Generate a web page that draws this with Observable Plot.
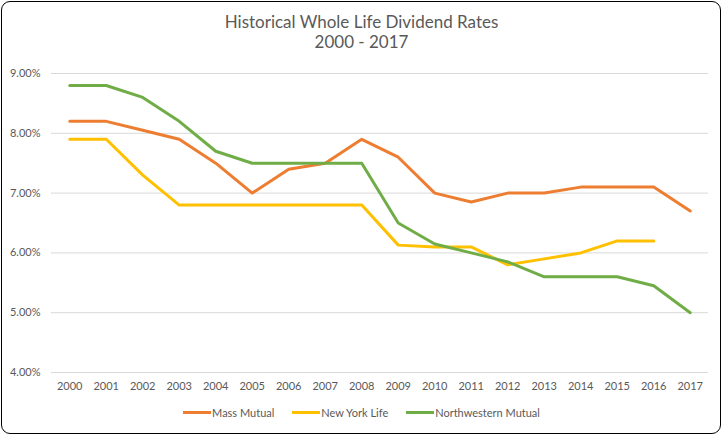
<!DOCTYPE html>
<html>
<head>
<meta charset="utf-8">
<script src="https://cdn.jsdelivr.net/npm/d3@7"></script>
<script src="https://cdn.jsdelivr.net/npm/@observablehq/plot@0.6"></script>
<style>
  html, body { margin: 0; padding: 0; background: #fff; }
  #wrap { position: relative; width: 723px; height: 436px; overflow: hidden; font-family: Lato, sans-serif; color: #595959; }
  #frame { position: absolute; left: 1px; top: 1px; width: 720px; height: 433px; box-sizing: border-box; border: 1.3px solid #000; border-radius: 9px; pointer-events: none; }
  #title { position: absolute; left: 0; top: 12px; width: 723px; text-align: center; font-size: 17px; line-height: 20px; font-weight: 400; }
  #chart { position: absolute; left: 0; top: 60px; }
  #legend { position: absolute; left: 0; top: 403px; width: 723px; text-align: center; font-size: 11px; }
  .item { display: inline-flex; align-items: center; margin: 0 9px; }
  .sw { display: inline-block; width: 28px; height: 3px; margin-right: 1px; }
</style>
</head>
<body>
<div id="wrap">
  <div id="title">Historical Whole Life Dividend Rates<br>2000 - 2017</div>
  <div id="chart"></div>
  <div id="legend"></div>
  <div id="frame"></div>
</div>
<script>
const years = [2000,2001,2002,2003,2004,2005,2006,2007,2008,2009,2010,2011,2012,2013,2014,2015,2016,2017];
const massMutual   = [8.2, 8.2, 8.05, 7.9, 7.5, 7.0, 7.4, 7.5, 7.9, 7.6, 7.0, 6.85, 7.0, 7.0, 7.1, 7.1, 7.1, 6.7];
const newYorkLife  = [7.9, 7.9, 7.3, 6.8, 6.8, 6.8, 6.8, 6.8, 6.8, 6.13, 6.1, 6.1, 5.8, 5.9, 6.0, 6.2, 6.2, null];
const northwestern = [8.8, 8.8, 8.6, 8.2, 7.7, 7.5, 7.5, 7.5, 7.5, 6.5, 6.15, 6.0, 5.85, 5.6, 5.6, 5.6, 5.45, 5.0];
const seriesNames  = ["Mass Mutual", "New York Life", "Northwestern Mutual"];
const seriesColors = ["#ED7D31", "#FFC000", "#70AD47"];
const yTicks = [4, 5, 6, 7, 8, 9];

const allSeries = [massMutual, newYorkLife, northwestern];
const rows = [];
allSeries.forEach((vals, si) => {
  vals.forEach((v, i) => {
    if (v != null) rows.push({year: String(years[i]), value: v, series: seriesNames[si]});
  });
});

const chart = Plot.plot({
  width: 723,
  height: 340,
  marginLeft: 51,
  marginRight: 15,
  marginTop: 13,
  marginBottom: 28,
  style: {fontFamily: "Lato, sans-serif", fontSize: "11px", color: "#595959", background: "transparent"},
  x: {type: "point", domain: years.map(String), padding: 0.5, round: false, label: null},
  y: {domain: [4, 9], label: null},
  color: {domain: seriesNames, range: seriesColors},
  marks: [
    Plot.gridY(yTicks, {stroke: "#D9D9D9", strokeOpacity: 1, strokeWidth: 1}),
    Plot.axisY(yTicks, {tickSize: 0, tickPadding: 11, tickFormat: d => d.toFixed(2) + "%", fill: "#595959"}),
    Plot.axisX({tickSize: 0, tickPadding: 10, fill: "#595959"}),
    Plot.line(rows, {x: "year", y: "value", z: "series", stroke: "series", strokeWidth: 3, strokeLinejoin: "round", strokeLinecap: "round"})
  ]
});
document.getElementById("chart").appendChild(chart);

const legend = document.getElementById("legend");
seriesNames.forEach((n, i) => {
  const it = document.createElement("span");
  it.className = "item";
  it.innerHTML = `<span class="sw" style="background:${seriesColors[i]}"></span>${n}`;
  legend.appendChild(it);
});
</script>
</body>
</html>
